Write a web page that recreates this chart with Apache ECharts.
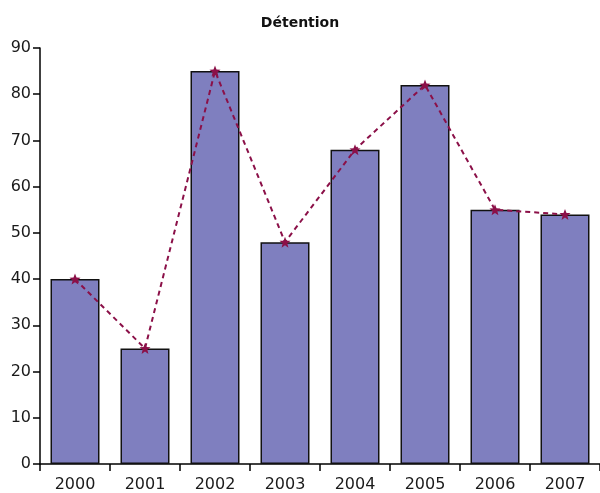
<!DOCTYPE html>
<html>
<head>
<meta charset="utf-8">
<style>
  html, body { margin: 0; padding: 0; background: #fff; }
  #chart { width: 600px; height: 493px; }
</style>
<script src="https://cdn.jsdelivr.net/npm/echarts@6/dist/echarts.min.js"></script>
</head>
<body>
<div id="chart"></div>
<script>
// Detention counts per year
const years = ['2000', '2001', '2002', '2003', '2004', '2005', '2006', '2007'];
const barValues = [40, 25, 85, 48, 68, 82, 55, 54];
const lineValues = [40, 25, 85, 48, 68, 82, 55, 54];
const yTicks = { min: 0, max: 90, interval: 10 };

const starPath = 'path://M0,-10 L2.6,-3.4 L9.5,-3.1 L4.1,1.3 L5.9,8.1 L0,4.2 L-5.9,8.1 L-4.1,1.3 L-9.5,-3.1 L-2.6,-3.4 Z';
const labelFont = 'DejaVu Sans, Verdana, sans-serif';

const chart = echarts.init(document.getElementById('chart'), null, { renderer: 'canvas' });
chart.setOption({
  animation: false,
  backgroundColor: '#ffffff',
  title: {
    text: 'Détention',
    left: 295,
    top: 11,
    textAlign: 'center',
    textStyle: { fontFamily: labelFont, fontSize: 14, fontWeight: 'bold', color: '#111' }
  },
  grid: { left: 40, right: 0, top: 48, bottom: 27, containLabel: false },
  xAxis: {
    type: 'category',
    data: years,
    boundaryGap: true,
    axisLine: { show: true, lineStyle: { color: '#000', width: 1.5 } },
    axisTick: { show: true, length: 7, inside: false, lineStyle: { color: '#000', width: 1.5 } },
    axisLabel: { color: '#1a1a1a', fontFamily: labelFont, fontSize: 16, margin: 13 },
    splitLine: { show: false }
  },
  yAxis: {
    type: 'value',
    min: yTicks.min,
    max: yTicks.max,
    interval: yTicks.interval,
    axisLine: { show: true, lineStyle: { color: '#000', width: 1.5 } },
    axisTick: { show: true, length: 7, lineStyle: { color: '#000', width: 1.5 } },
    axisLabel: { color: '#1a1a1a', fontFamily: labelFont, fontSize: 16, margin: 9 },
    splitLine: { show: false }
  },
  series: [
    {
      type: 'bar',
      data: barValues,
      barWidth: '70%',
      itemStyle: { color: '#7f7fbf', borderColor: '#111', borderWidth: 1.5 },
      z: 2
    },
    {
      type: 'line',
      data: lineValues,
      symbol: starPath,
      symbolSize: 11,
      itemStyle: { color: '#8b1048' },
      lineStyle: { color: '#8b1048', width: 2, type: [5, 4] },
      z: 3
    }
  ]
});
</script>
</body>
</html>
